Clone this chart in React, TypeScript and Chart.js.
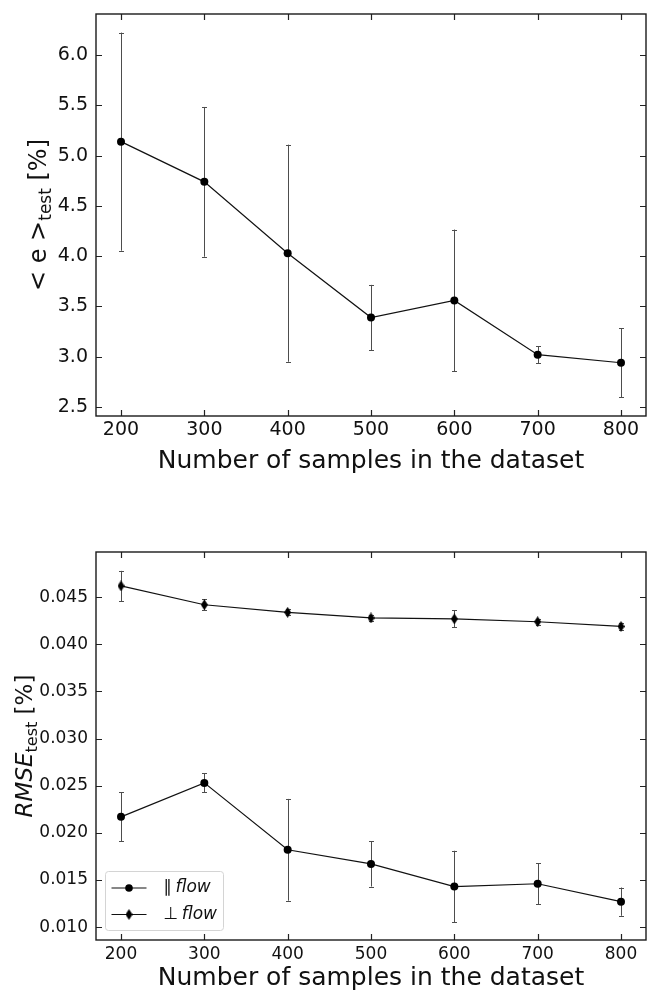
import { useEffect, useRef } from "react";
import { Chart, registerables } from "chart.js";

Chart.register(...registerables);

// Shared x values (number of samples)
const SAMPLES = [200, 300, 400, 500, 600, 700, 800];
const X_TICKS = [200, 300, 400, 500, 600, 700, 800];
const X_MIN = 170;
const X_MAX = 830;

// Upper panel: mean test error with standard deviation
const MEAN_ERR = [5.14, 4.74, 4.03, 3.39, 3.56, 3.02, 2.94];
const MEAN_ERR_SD = [1.085, 0.745, 1.08, 0.325, 0.705, 0.085, 0.345];
const TOP_Y_TICKS = [2.5, 3.0, 3.5, 4.0, 4.5, 5.0, 5.5, 6.0];
const TOP_Y_MIN = 2.41;
const TOP_Y_MAX = 6.41;

// Lower panel: RMSE for flow parallel / perpendicular
const RMSE_PAR = [0.0217, 0.0253, 0.0182, 0.0167, 0.0143, 0.0146, 0.0127];
const RMSE_PAR_SD = [0.0026, 0.001, 0.0054, 0.0024, 0.0038, 0.0022, 0.0015];
const RMSE_PERP = [0.0462, 0.0442, 0.0434, 0.0428, 0.0427, 0.0424, 0.0419];
const RMSE_PERP_SD = [0.0016, 0.0006, 0.0003, 0.0003, 0.0009, 0.0003, 0.0004];
const BOTTOM_Y_TICKS = [0.01, 0.015, 0.02, 0.025, 0.03, 0.035, 0.04, 0.045];
const BOTTOM_Y_MIN = 0.00863;
const BOTTOM_Y_MAX = 0.0498;

const X_TITLE = "Number of samples in the dataset";
const LEGEND_LABELS = ["\u2225", "\u22A5"];
const LEGEND_WORD = "flow";

const FONT = '"DejaVu Sans", sans-serif';
const INK = "#111111";

type TextPart = { text: string; font: string; dy: number };

function makeDiamond(w: number, h: number) {
  const c = document.createElement("canvas");
  c.width = w;
  c.height = h;
  const g = c.getContext("2d")!;
  g.fillStyle = "#000";
  g.beginPath();
  g.moveTo(w / 2, 0);
  g.lineTo(w, h / 2);
  g.lineTo(w / 2, h);
  g.lineTo(0, h / 2);
  g.closePath();
  g.fill();
  return c;
}

function drawRotated(ctx: CanvasRenderingContext2D, parts: TextPart[], baseX: number, cy: number) {
  ctx.save();
  let total = 0;
  for (const p of parts) {
    ctx.font = p.font;
    total += ctx.measureText(p.text).width;
  }
  ctx.translate(baseX, cy);
  ctx.rotate(-Math.PI / 2);
  ctx.textBaseline = "alphabetic";
  ctx.textAlign = "left";
  ctx.fillStyle = INK;
  let x = -total / 2;
  for (const p of parts) {
    ctx.font = p.font;
    ctx.fillText(p.text, x, p.dy);
    x += ctx.measureText(p.text).width;
  }
  ctx.restore();
}

const errorBarPlugin = {
  id: "errorBars",
  beforeDatasetsDraw(chart: any) {
    const { ctx, scales } = chart;
    const xs = scales.x;
    const ys = scales.y;
    ctx.save();
    ctx.strokeStyle = "#4d4d4d";
    ctx.lineWidth = 1;
    chart.data.datasets.forEach((ds: any) => {
      const errs: number[] | undefined = ds.errors;
      if (!errs) return;
      ds.data.forEach((p: { x: number; y: number }, i: number) => {
        const px = Math.round(xs.getPixelForValue(p.x)) + 0.5;
        const top = ys.getPixelForValue(p.y + errs[i]);
        const bot = ys.getPixelForValue(p.y - errs[i]);
        ctx.beginPath();
        ctx.moveTo(px, top);
        ctx.lineTo(px, bot);
        ctx.moveTo(px - 2.5, Math.round(top) + 0.5);
        ctx.lineTo(px + 2.5, Math.round(top) + 0.5);
        ctx.moveTo(px - 2.5, Math.round(bot) + 0.5);
        ctx.lineTo(px + 2.5, Math.round(bot) + 0.5);
        ctx.stroke();
      });
    });
    ctx.restore();
  },
};

type PanelSpec = {
  yTitle: TextPart[];
  yTitleX: number;
  xTitleOffset: number;
  legend: boolean;
  diamond?: HTMLCanvasElement;
};

function makeDecor(spec: PanelSpec) {
  return {
    id: "decor",
    afterDatasetsDraw(chart: any) {
      const { ctx, chartArea, scales } = chart;
      const { left, right, top, bottom } = chartArea;
      ctx.save();
      // inward ticks on all four sides
      ctx.strokeStyle = "#222";
      ctx.lineWidth = 1.2;
      ctx.beginPath();
      for (const v of X_TICKS) {
        const px = Math.round(scales.x.getPixelForValue(v)) + 0.5;
        ctx.moveTo(px, bottom);
        ctx.lineTo(px, bottom - 6);
        ctx.moveTo(px, top);
        ctx.lineTo(px, top + 6);
      }
      for (const t of scales.y.ticks) {
        const py = Math.round(scales.y.getPixelForValue(t.value)) + 0.5;
        ctx.moveTo(left, py);
        ctx.lineTo(left + 6, py);
        ctx.moveTo(right, py);
        ctx.lineTo(right - 6, py);
      }
      ctx.stroke();
      // frame
      ctx.lineWidth = 1.4;
      ctx.strokeStyle = "#1a1a1a";
      ctx.strokeRect(left, top, right - left, bottom - top);
      ctx.restore();

      // axis titles
      ctx.save();
      ctx.font = `25px ${FONT}`;
      ctx.fillStyle = INK;
      ctx.textAlign = "center";
      ctx.textBaseline = "middle";
      ctx.fillText(X_TITLE, (left + right) / 2, bottom + spec.xTitleOffset);
      ctx.restore();
      drawRotated(ctx, spec.yTitle, spec.yTitleX, (top + bottom) / 2);

      if (spec.legend) {
        const bx = left + 9.5;
        const by = bottom - 68.5;
        const bw = 118;
        const bh = 59;
        ctx.save();
        ctx.fillStyle = "rgba(255,255,255,0.85)";
        ctx.strokeStyle = "#d4d4d4";
        ctx.lineWidth = 1;
        ctx.beginPath();
        (ctx as any).roundRect(bx, by, bw, bh, 3);
        ctx.fill();
        ctx.stroke();
        const rows = [by + 16.5, by + 43];
        rows.forEach((ry, i) => {
          ctx.strokeStyle = INK;
          ctx.lineWidth = 1.2;
          ctx.beginPath();
          ctx.moveTo(bx + 6, ry);
          ctx.lineTo(bx + 41, ry);
          ctx.stroke();
          const mx = bx + 23.5;
          if (i === 0) {
            ctx.fillStyle = "#000";
            ctx.beginPath();
            ctx.arc(mx, ry, 3.8, 0, Math.PI * 2);
            ctx.fill();
          } else if (spec.diamond) {
            ctx.drawImage(spec.diamond, mx - spec.diamond.width / 2, ry - spec.diamond.height / 2);
          }
          ctx.fillStyle = INK;
          ctx.textBaseline = "middle";
          ctx.textAlign = "left";
          ctx.font = `17px ${FONT}`;
          const sym = LEGEND_LABELS[i] + " ";
          ctx.fillText(sym, bx + 58, ry);
          const w = ctx.measureText(sym).width;
          ctx.font = `italic 17px ${FONT}`;
          ctx.fillText(LEGEND_WORD, bx + 58 + w - 2, ry);
        });
        ctx.restore();
      }
    },
  };
}

function buildOptions(
  yMin: number,
  yMax: number,
  yTicks: number[],
  decimals: number,
  padTop: number,
  axisHeight: number,
  tickSize: number,
  xPad: number
) {
  const tickFont = { family: FONT, size: tickSize };
  return {
    responsive: false,
    animation: false as const,
    devicePixelRatio: 1,
    events: [] as any[],
    layout: { padding: { top: padTop, right: 2, left: 0, bottom: 0 } },
    plugins: { legend: { display: false }, tooltip: { enabled: false } },
    scales: {
      x: {
        type: "linear" as const,
        min: X_MIN,
        max: X_MAX,
        grid: { display: false, drawTicks: false },
        border: { display: false },
        afterBuildTicks: (s: any) => {
          s.ticks = X_TICKS.map((v) => ({ value: v }));
        },
        afterFit: (s: any) => {
          s.height = axisHeight;
          s.paddingLeft = 0;
          s.paddingRight = 0;
        },
        ticks: {
          font: tickFont,
          color: INK,
          padding: xPad,
          maxRotation: 0,
          autoSkip: false,
          callback: (v: any) => String(v),
        },
      },
      y: {
        type: "linear" as const,
        min: yMin,
        max: yMax,
        grid: { display: false, drawTicks: false },
        border: { display: false },
        afterBuildTicks: (s: any) => {
          s.ticks = yTicks.map((v) => ({ value: v }));
        },
        afterFit: (s: any) => {
          s.width = 96;
          s.paddingTop = 0;
          s.paddingBottom = 0;
        },
        ticks: {
          font: tickFont,
          color: INK,
          padding: 8,
          autoSkip: false,
          callback: (v: any) => Number(v).toFixed(decimals),
        },
      },
    },
  };
}

export default function App() {
  const topRef = useRef<HTMLCanvasElement>(null);
  const botRef = useRef<HTMLCanvasElement>(null);

  useEffect(() => {
    const diamond = makeDiamond(7, 11);
    const lineStyle = {
      borderColor: INK,
      borderWidth: 1.2,
      pointBackgroundColor: "#000",
      pointBorderColor: "#000",
      pointBorderWidth: 0,
      pointRadius: 4,
      tension: 0,
      fill: false,
    };

    const topChart = new Chart(topRef.current!, {
      type: "line",
      data: {
        datasets: [
          {
            ...lineStyle,
            data: SAMPLES.map((s, i) => ({ x: s, y: MEAN_ERR[i] })),
            errors: MEAN_ERR_SD,
          } as any,
        ],
      },
      options: buildOptions(TOP_Y_MIN, TOP_Y_MAX, TOP_Y_TICKS, 1, 14, 64, 19, 3) as any,
      plugins: [
        errorBarPlugin,
        makeDecor({
          yTitle: [
            { text: "< e >", font: `24px ${FONT}`, dy: 0 },
            { text: "test", font: `17px ${FONT}`, dy: 5 },
            { text: " [%]", font: `24px ${FONT}`, dy: 0 },
          ],
          yTitleX: 46,
          xTitleOffset: 45,
          legend: false,
        }),
      ],
    });

    const botChart = new Chart(botRef.current!, {
      type: "line",
      data: {
        datasets: [
          {
            ...lineStyle,
            data: SAMPLES.map((s, i) => ({ x: s, y: RMSE_PAR[i] })),
            errors: RMSE_PAR_SD,
          } as any,
          {
            ...lineStyle,
            pointStyle: diamond,
            data: SAMPLES.map((s, i) => ({ x: s, y: RMSE_PERP[i] })),
            errors: RMSE_PERP_SD,
          } as any,
        ],
      },
      options: buildOptions(BOTTOM_Y_MIN, BOTTOM_Y_MAX, BOTTOM_Y_TICKS, 3, 62, 50, 17, 4) as any,
      plugins: [
        errorBarPlugin,
        makeDecor({
          yTitle: [
            { text: "RMSE", font: `italic 23px ${FONT}`, dy: 0 },
            { text: "test", font: `16px ${FONT}`, dy: 5 },
            { text: " [%]", font: `23px ${FONT}`, dy: 0 },
          ],
          yTitleX: 32,
          xTitleOffset: 38,
          legend: true,
          diamond,
        }),
      ],
    });

    return () => {
      topChart.destroy();
      botChart.destroy();
    };
  }, []);

  return (
    <div
      style={{
        position: "absolute",
        left: 0,
        top: 0,
        width: 647,
        height: 990,
        overflow: "hidden",
        background: "#fff",
      }}
    >
      <canvas
        ref={topRef}
        width={650}
        height={480}
        style={{ position: "absolute", left: 0, top: 0, width: 650, height: 480 }}
      />
      <canvas
        ref={botRef}
        width={650}
        height={500}
        style={{ position: "absolute", left: 0, top: 490, width: 650, height: 500 }}
      />
    </div>
  );
}
